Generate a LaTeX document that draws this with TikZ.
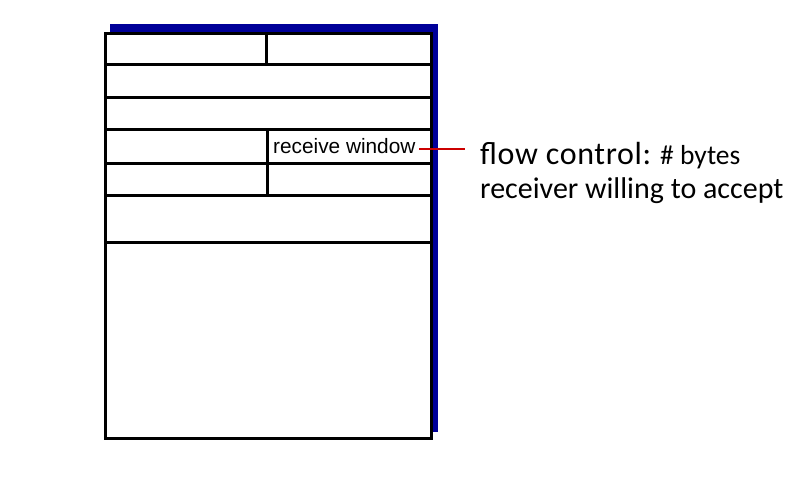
\documentclass[tikz,border=0pt]{standalone}
\usepackage{fontspec}
\setmainfont{Carlito}
\newfontfamily\arialf{Liberation Sans}
\definecolor{navy}{RGB}{0,0,153}
\definecolor{redline}{RGB}{204,0,0}
\begin{document}
\begin{tikzpicture}[x=1pt,y=-1pt,
  rule/.style={line width=3pt, line cap=rect},
  bigtext/.style={anchor=base west, inner sep=0pt, font=\fontsize{30}{34}\selectfont},
  smalllabel/.style={anchor=base west, inner sep=0pt, font=\arialf\fontsize{20.8}{24}\selectfont}]
\useasboundingbox (0,0) rectangle (796,478);
% shadow
\fill[navy] (110,24) rectangle (438,432);
% main segment box
\draw[line width=3pt, fill=white] (105,33.5) rectangle (431,439);
\draw[rule] (105,65) -- (431,65);
\draw[rule] (105,97.5) -- (431,97.5);
\draw[rule] (105,130) -- (431,130);
\draw[rule] (105,163.5) -- (431,163.5);
\draw[rule] (105,196) -- (431,196);
\draw[rule] (105,243) -- (431,243);
\draw[rule] (266,33.5) -- (266,65);
\draw[rule] (267.5,130) -- (267.5,196);
% label
\node[smalllabel] (rw) at (273,153.5) {receive window};
\coordinate (rwend) at (419,149);
\coordinate (fcstart) at (465,149);
\draw[redline, line width=2.5pt] (rwend) -- (fcstart);
\node[bigtext] (fc1) at (480,165) {{\fontsize{32}{34}\selectfont\addfontfeature{LetterSpace=2}flow control:} {\fontsize{27.5}{30}\selectfont \# bytes}};
\node[bigtext] (fc2) at (480,199) {receiver willing to accept};
\end{tikzpicture}
\end{document}
